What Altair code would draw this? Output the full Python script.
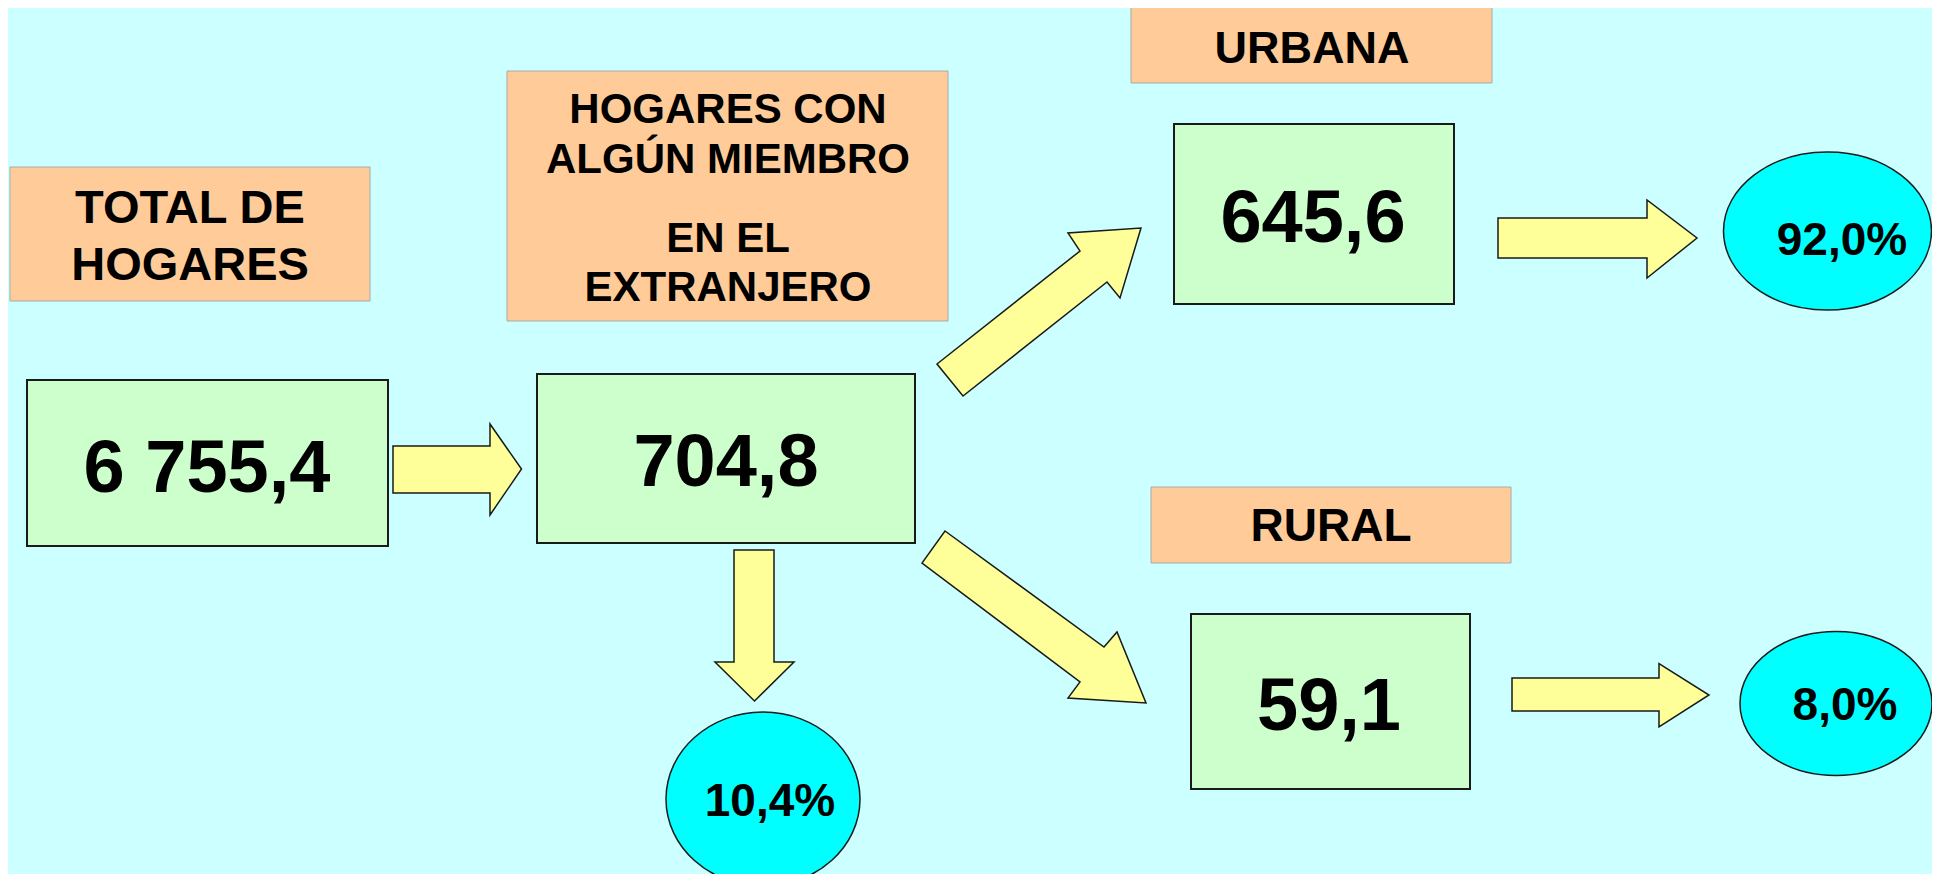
import altair as alt
import pandas as pd

# ---------------- data: texts ----------------
header_text = ["TOTAL DE", "HOGARES", "HOGARES CON", "ALGÚN MIEMBRO",
               "EN EL", "EXTRANJERO", "URBANA", "RURAL"]
value_text = ["6 755,4", "704,8", "645,6", "59,1"]
pct_text = ["10,4%", "92,0%", "8,0%"]

# ---------------- layout (reference pixel coordinates) ----------------
OX, OY = 8, 8          # page margin
W, H = 1924, 866       # drawing area

label_box_x = [10, 507, 1131, 1151]
label_box_x2 = [370, 948, 1492, 1511]
label_box_y = [167, 71, 7, 487]
label_box_y2 = [301, 321, 83, 563]

header_x = [190, 190, 728, 728, 728, 728, 1312, 1331]
header_y = [223, 280, 123, 173, 252, 301, 63, 541]
header_size = [47, 47, 42, 42, 42, 42, 45, 46]

value_box_x = [27, 537, 1174, 1191]
value_box_x2 = [388, 915, 1454, 1470]
value_box_y = [380, 374, 124, 614]
value_box_y2 = [546, 543, 304, 789]
value_x = [207, 726, 1313, 1329]
value_y = [492, 486, 242, 730]

ell_cx = [763, 1827.5, 1836]
ell_cy = [799, 231, 703.5]
ell_rx = [97, 104, 96]
ell_ry = [87, 79, 72]
pct_x = [770, 1842, 1845]
pct_y = [816, 255, 720]

arrow_shapes = [
    [(393, 446), (490, 446), (490, 424), (521.5, 469), (490, 515), (490, 493), (393, 493)],
    [(734, 550), (774, 550), (774, 662), (794, 662), (754.5, 701), (715, 662), (734, 662)],
    [(937, 364), (1080, 251), (1068, 233), (1141, 228), (1120, 298), (1107, 282), (963, 396)],
    [(945, 531), (1104, 647), (1117, 632), (1146, 703), (1068, 698), (1080, 682), (922, 563)],
    [(1498, 218), (1647, 218), (1647, 200), (1697, 238), (1647, 278), (1647, 258), (1498, 258)],
    [(1512, 678), (1659, 678), (1659, 663.5), (1709, 695), (1659, 727), (1659, 711), (1512, 711)],
]

# ---------------- tables ----------------
labels_df = pd.DataFrame(dict(x=label_box_x, x2=label_box_x2, y=label_box_y, y2=label_box_y2))
headers_df = pd.DataFrame(dict(t=header_text, x=header_x, y=header_y, s=header_size))
values_box_df = pd.DataFrame(dict(x=value_box_x, x2=value_box_x2, y=value_box_y, y2=value_box_y2))
values_df = pd.DataFrame(dict(t=value_text, x=value_x, y=value_y))
pct_df = pd.DataFrame(dict(t=pct_text, x=pct_x, y=pct_y))

ell_ids = ["e%d" % i for i in range(len(ell_cx))]
ell_paths = ["M -1 0 A 1 %.4f 0 1 1 1 0 A 1 %.4f 0 1 1 -1 0 Z" % (ry / rx, ry / rx)
             for rx, ry in zip(ell_rx, ell_ry)]
ell_df = pd.DataFrame(dict(id=ell_ids, x=ell_cx, y=ell_cy,
                           size=[(2 * r) ** 2 for r in ell_rx]))

features = []
for pts in arrow_shapes:
    ring = [list(p) for p in pts] + [list(pts[0])]
    features.append({"type": "Feature", "properties": {},
                     "geometry": {"type": "Polygon", "coordinates": [ring]}})

FONT = "Liberation Sans"

xs = alt.Scale(domain=[OX, OX + W], nice=False, zero=False)
ys = alt.Scale(domain=[OY, OY + H], nice=False, zero=False, reverse=True)
X = lambda f="x": alt.X(f + ":Q", scale=xs, axis=None)
Y = lambda f="y": alt.Y(f + ":Q", scale=ys, axis=None)

label_boxes = alt.Chart(labels_df).mark_rect(
    fill="#FFCC99", stroke="#A8A8A8", strokeWidth=1
).encode(x=X(), x2="x2:Q", y=Y(), y2="y2:Q")

value_boxes = alt.Chart(values_box_df).mark_rect(
    fill="#CCFFCC", stroke="#1A1A1A", strokeWidth=2
).encode(x=X(), x2="x2:Q", y=Y(), y2="y2:Q")

arrows = alt.Chart(alt.Data(values=features)).mark_geoshape(
    fill="#FFFF99", stroke="#1A1A1A", strokeWidth=1.5
).project(type="identity", scale=1, translate=[-OX, -OY])

ellipses = alt.Chart(ell_df).mark_point(
    filled=True, fill="#00FFFF", stroke="#1A1A1A", strokeWidth=1.5, opacity=1
).encode(
    x=X(), y=Y(),
    shape=alt.Shape("id:N", scale=alt.Scale(domain=ell_ids, range=ell_paths), legend=None),
    size=alt.Size("size:Q", scale=None, legend=None),
)

headers = alt.Chart(headers_df).mark_text(
    font=FONT, fontWeight="bold", baseline="alphabetic", align="center", color="#000000"
).encode(x=X(), y=Y(), text="t:N", size=alt.Size("s:Q", scale=None, legend=None))

values = alt.Chart(values_df).mark_text(
    font=FONT, fontWeight="bold", baseline="alphabetic", align="center", color="#000000",
    fontSize=74
).encode(x=X(), y=Y(), text="t:N")

pcts = alt.Chart(pct_df).mark_text(
    font=FONT, fontWeight="bold", baseline="alphabetic", align="center", color="#000000",
    fontSize=46
).encode(x=X(), y=Y(), text="t:N")

chart = alt.layer(
    label_boxes, value_boxes, arrows, ellipses, headers, values, pcts
).properties(
    width=W, height=H, background="#CCFFFF", padding=0,
    autosize=alt.AutoSizeParams(type="none"),
).configure_view(stroke=None)

chart.save("out.html", embed_options={"renderer": "svg", "actions": False})
